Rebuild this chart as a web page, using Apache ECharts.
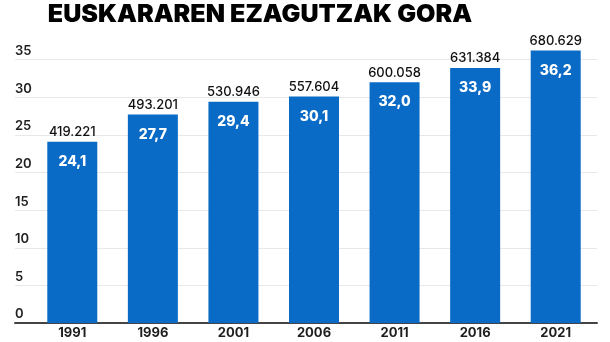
<!DOCTYPE html>
<html>
<head>
<meta charset="utf-8">
<script src="https://cdn.jsdelivr.net/npm/echarts@6/dist/echarts.min.js"></script>
<style>
  html, body { margin: 0; padding: 0; background: #fff; }
  #chart { width: 610px; height: 342px; }
</style>
</head>
<body>
<div id="chart"></div>
<script>
// Euskara ezagutzen dutenen portzentajea eta kopurua, urteka
const years = ['1991', '1996', '2001', '2006', '2011', '2016', '2021'];
const percent = [24.1, 27.7, 29.4, 30.1, 32.0, 33.9, 36.2];
const speakers = ['419.221', '493.201', '530.946', '557.604', '600.058', '631.384', '680.629'];
const yTicks = [0, 5, 10, 15, 20, 25, 30, 35];

const FONT = 'Inter, "Open Sans", sans-serif';
const BLUE = '#0a6bc6';

const chart = echarts.init(document.getElementById('chart'), null, { renderer: 'canvas' });

chart.setOption({
  animation: false,
  backgroundColor: '#ffffff',
  graphic: [{
    type: 'text',
    x: 260,
    y: 15,
    scaleX: 1.045,
    style: {
      text: 'EUSKARAREN EZAGUTZAK GORA',
      fontFamily: FONT,
      fontWeight: 900,
      fontSize: 24,
      fill: '#000',
      textAlign: 'center',
      textVerticalAlign: 'middle'
    }
  }],
  grid: [
    // bar area
    { left: 32, right: 14, top: 22, bottom: 19, containLabel: false },
    // full-width background grid for gridlines, tick labels and base line
    { left: 15, right: 13, top: 22, bottom: 19, containLabel: false }
  ],
  xAxis: [
    {
      type: 'category',
      gridIndex: 0,
      data: years,
      axisLine: { show: false },
      axisTick: { show: false },
      axisLabel: {
        margin: 4,
        fontFamily: FONT,
        fontWeight: 700,
        fontSize: 13,
        color: '#1e1e1e'
      }
    },
    {
      type: 'value',
      gridIndex: 1,
      min: 0,
      max: 1,
      axisLine: { show: true, lineStyle: { color: '#444', width: 2 } },
      axisTick: { show: false },
      axisLabel: { show: false },
      splitLine: { show: false }
    }
  ],
  yAxis: [
    {
      type: 'value',
      gridIndex: 0,
      min: 0,
      max: 40,
      interval: 5,
      axisLine: { show: false },
      axisTick: { show: false },
      axisLabel: { show: false },
      splitLine: { show: false }
    },
    {
      type: 'value',
      gridIndex: 1,
      min: 0,
      max: 40,
      interval: 5,
      axisLine: { show: false },
      axisTick: { show: false },
      axisLabel: {
        inside: true,
        margin: 0,
        showMaxLabel: false,
        verticalAlign: 'bottom',
        padding: [0, 0, 2, 0],
        fontFamily: FONT,
        fontWeight: 600,
        fontSize: 13,
        color: '#1e1e1e',
        formatter: v => (yTicks.indexOf(v) >= 0 ? String(v) : '')
      },
      splitLine: {
        show: true,
        showMaxLine: false,
        lineStyle: { color: '#e8e8e8', width: 1 }
      }
    }
  ],
  series: [
    {
      type: 'bar',
      xAxisIndex: 0,
      yAxisIndex: 0,
      data: percent,
      barWidth: 50,
      itemStyle: { color: BLUE },
      label: {
        show: true,
        position: 'top',
        distance: 3,
        fontFamily: FONT,
        fontWeight: 500,
        fontSize: 13,
        color: '#111',
        formatter: p => speakers[p.dataIndex]
      }
    },
    {
      type: 'bar',
      xAxisIndex: 0,
      yAxisIndex: 0,
      data: percent,
      barWidth: 50,
      barGap: '-100%',
      itemStyle: { color: 'rgba(0,0,0,0)' },
      label: {
        show: true,
        position: 'insideTop',
        distance: 13,
        fontFamily: FONT,
        fontWeight: 800,
        fontSize: 14,
        color: '#fff',
        formatter: p => p.value.toFixed(1).replace('.', ',')
      }
    }
  ]
});
</script>
</body>
</html>
